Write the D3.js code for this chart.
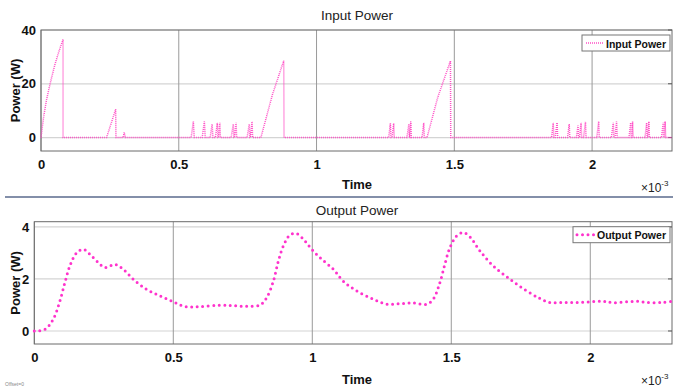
<!DOCTYPE html>
<html><head><meta charset="utf-8">
<script src="https://cdn.jsdelivr.net/npm/d3@7"></script>
<style>body{margin:0;background:#fff;}svg{display:block;font-family:"Liberation Sans",Arial,sans-serif;}</style>
</head><body><svg id="c" width="673" height="387"></svg>
<script>
// Time axis ticks (units of 1e-3 s)
const xTicks = [0, 0.5, 1, 1.5, 2];
const xTickLabels = ["0", "0.5", "1", "1.5", "2"];
const inYTicks = [0, 20, 40];
const outYTicks = [0, 2, 4];

// Input power (W) vs time (ms)
const inT = [0,0.01,0.02,0.033,0.05,0.065,0.08,0.08,0.238,0.271,0.272,0.298,0.302,0.306,
 0.545,0.553,0.556,0.585,0.593,0.596,0.614,0.621,0.624,0.633,0.640,0.642,0.644,0.649,0.651,
 0.690,0.698,0.700,0.702,0.708,0.710,0.748,0.756,0.758,0.760,0.766,0.768,
 0.798,0.84,0.881,0.882,
 1.262,1.268,1.270,1.274,1.280,1.282,1.328,1.335,1.337,1.338,1.342,1.344,1.383,1.389,1.391,
 1.401,1.44,1.486,1.487,
 1.853,1.859,1.861,1.866,1.873,1.875,1.911,1.917,1.919,1.943,1.949,1.951,1.954,1.960,1.962,
 1.969,1.976,1.978,2.017,2.024,2.026,2.070,2.077,2.079,2.083,2.089,2.091,2.134,2.140,2.142,
 2.144,2.147,2.149,2.192,2.198,2.200,2.202,2.206,2.208,2.252,2.258,2.260,2.262,2.265,2.267,2.29];
const inP = [0,8,14,20,27,32,36.5,0,0,10.5,0,0,1.9,0,
 0,6,0,0,6,0,0,5,0,0,5.5,0,0,5.5,0,
 0,5,0,0,5.5,0,0,5,0,0,6,0,
 0,16,28.6,0,
 0,5.3,0,0,5.3,0,0,5,0,0,6,0,0,5.5,0,
 0,15,28.5,0,
 0,5.5,0,0,5.6,0,0,5,0,0,4.5,0,0,5.5,0,
 0,5.8,0,0,6,0,0,5.5,0,0,6,0,0,5.5,0,
 0,6,0,0,5.5,0,0,6,0,0,5.5,0,0,6,0,0];

// Output power (W) vs time (ms)
const outT = [0,0.038,0.068,0.092,0.110,0.128,0.152,0.176,0.2,0.23,0.254,0.29,0.32,0.356,0.404,0.452,0.5,0.542,0.596,0.668,0.716,0.764,0.812,0.836,0.86,0.878,0.896,0.92,0.944,0.968,0.998,1.034,1.076,1.111,1.16,1.22,1.268,1.316,1.363,1.411,1.435,1.459,1.477,1.495,1.519,1.543,1.567,1.603,1.651,1.711,1.771,1.819,1.855,1.903,1.95,1.999,2.047,2.083,2.167,2.215,2.263,2.294];
const outP = [0,0.06,0.45,1.15,1.86,2.5,3.0,3.14,2.95,2.63,2.44,2.56,2.37,1.99,1.6,1.35,1.12,0.94,0.94,0.99,0.97,0.95,1.0,1.28,1.92,2.69,3.27,3.69,3.74,3.53,3.14,2.76,2.37,1.92,1.54,1.22,1.03,1.05,1.08,1.03,1.22,1.86,2.57,3.2,3.65,3.78,3.62,3.08,2.5,1.99,1.54,1.25,1.09,1.1,1.09,1.12,1.14,1.09,1.14,1.09,1.1,1.14];

const svg = d3.select("#c");

function panel(opts){
  const x = d3.scaleLinear().domain(opts.xd).range([opts.l, opts.r]);
  const y = d3.scaleLinear().domain(opts.yd).range([opts.b, opts.t]);
  const g = svg.append("g");
  // grid
  g.selectAll(".gy").data(opts.yTicks).join("line")
    .attr("x1", opts.l).attr("x2", opts.r).attr("y1", d=>y(d)).attr("y2", d=>y(d))
    .attr("stroke", "#d4d4d4").attr("stroke-width", 1.2);
  g.selectAll(".gx").data(xTicks).join("line")
    .attr("x1", d=>x(d)).attr("x2", d=>x(d)).attr("y1", opts.t).attr("y2", opts.b)
    .attr("stroke", "#9a9a9a").attr("stroke-width", 1);
  // box
  g.append("rect").attr("x", opts.l).attr("y", opts.t).attr("width", opts.r-opts.l).attr("height", opts.b-opts.t)
    .attr("fill", "none").attr("stroke", "#6a6a6a").attr("stroke-width", 1);
  // axes
  const ax = d3.axisBottom(x).tickValues(xTicks).tickFormat((d,i)=>xTickLabels[i]).tickSize(0).tickPadding(9);
  const axg = g.append("g").attr("transform", `translate(0,${opts.b})`).call(ax);
  axg.select(".domain").remove();
  axg.selectAll("text").attr("font-size", 13).attr("font-weight", "bold").attr("fill", "#111").attr("font-family", "Liberation Sans, Arial, sans-serif");
  const ay = d3.axisLeft(y).tickValues(opts.yTicks).tickFormat(d3.format("d")).tickSize(0).tickPadding(5);
  const ayg = g.append("g").attr("transform", `translate(${opts.l},0)`).call(ay);
  ayg.select(".domain").remove();
  ayg.selectAll("text").attr("font-size", 13).attr("font-weight", "bold").attr("fill", "#111").attr("font-family", "Liberation Sans, Arial, sans-serif");
  // right ticks
  g.selectAll(".rt").data(opts.yTicks).join("line")
    .attr("x1", opts.r-4).attr("x2", opts.r).attr("y1", d=>y(d)).attr("y2", d=>y(d)).attr("stroke", "#555");
  // title
  g.append("text").attr("x", 357).attr("y", opts.titleY).attr("text-anchor", "middle")
    .attr("font-size", 13.5).attr("fill", "#222").text(opts.title);
  // x label
  g.append("text").attr("x", 357).attr("y", opts.xlabY).attr("text-anchor", "middle")
    .attr("font-size", 13).attr("font-weight", "bold").attr("fill", "#111").text("Time");
  const ex = g.append("text").attr("x", 641).attr("y", opts.expY).attr("font-size", 12).attr("fill", "#222");
  ex.append("tspan").text("\u00d710");
  ex.append("tspan").attr("dy", -6).attr("font-size", 8).text("-3");
  // y label
  g.append("text").attr("transform", `translate(${opts.ylabX},${(opts.t+opts.b)/2}) rotate(-90)`)
    .attr("text-anchor", "middle").attr("font-size", 13).attr("font-weight", "bold").attr("fill", "#111").text("Power (W)");
  // line
  const data = opts.tArr.map((t,i)=>[t, opts.pArr[i]]);
  const line = d3.line().x(d=>x(d[0])).y(d=>y(d[1])).curve(opts.curve);
  g.append("path").datum(data).attr("d", line).attr("fill", "none")
    .attr("stroke", opts.color).attr("stroke-width", opts.sw).attr("stroke-dasharray", opts.dash)
    .attr("stroke-linecap", opts.cap);
  // legend
  const lg = g.append("g");
  lg.append("rect").attr("x", opts.legX).attr("y", opts.t+5).attr("width", 670-opts.legX).attr("height", 16)
    .attr("fill", "#fff").attr("stroke", "#777").attr("stroke-width", 1);
  lg.append("line").attr("x1", opts.legX+4).attr("x2", opts.legX+22).attr("y1", opts.t+13).attr("y2", opts.t+13)
    .attr("stroke", opts.color).attr("stroke-width", opts.sw).attr("stroke-dasharray", opts.dash).attr("stroke-linecap", opts.cap);
  lg.append("text").attr("x", opts.legX+24).attr("y", opts.t+17.5).attr("font-size", 11).attr("font-weight", "bold")
    .attr("fill", "#111").attr("textLength", 666-(opts.legX+24)).attr("lengthAdjust", "spacingAndGlyphs").text(opts.title);
}

panel({xd:[0,2.29], yd:[-5,40], l:41, r:672, t:30, b:151, yTicks: inYTicks, title:"Input Power",
  titleY:20, xlabY:189, expY:192, ylabX:20, tArr:inT, pArr:inP, curve:d3.curveLinear, sw:1.5, dash:"1 1", cap:"butt", color:"#ff4fc6", legX:582});

// separator between panels
svg.append("line").attr("x1",5).attr("x2",673).attr("y1",197).attr("y2",197).attr("stroke","#5a6a8c").attr("stroke-width",1.5);

panel({xd:[0,2.294], yd:[-0.5,4.2], l:34.3, r:672, t:221.7, b:344, yTicks: outYTicks, title:"Output Power",
  titleY:215, xlabY:384, expY:385, ylabX:20, tArr:outT, pArr:outP, curve:d3.curveCatmullRom, sw:3, dash:"0 5.5", cap:"round", color:"#ff33cc", legX:573});

svg.append("text").attr("x",5).attr("y",386).attr("font-size",5).attr("fill","#888").text("Offset=0");
</script></body></html>
